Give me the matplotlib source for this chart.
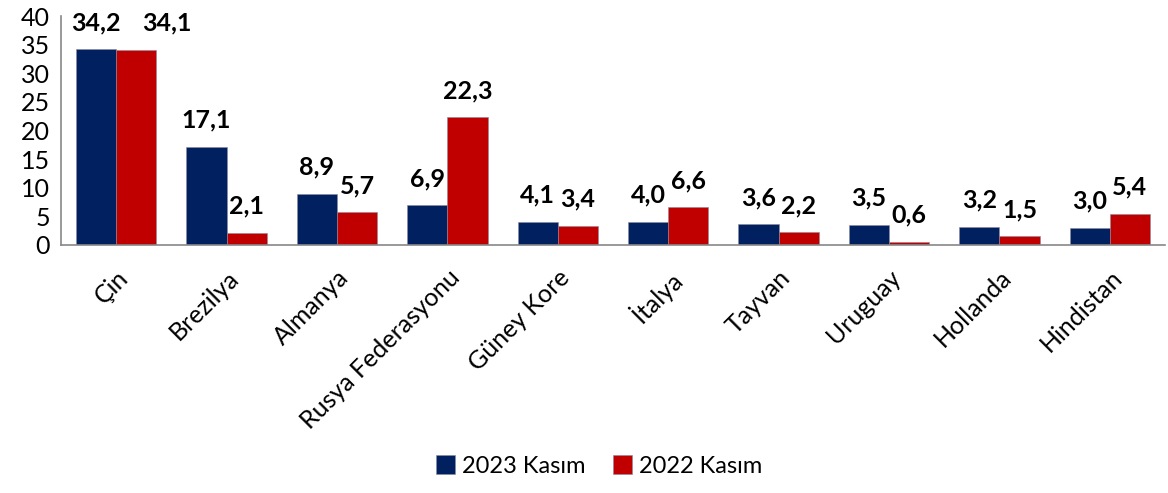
import numpy as np
import matplotlib.pyplot as plt

plt.rcParams['font.family'] = ['Lato', 'DejaVu Sans']

countries = ['Çin', 'Brezilya', 'Almanya', 'Rusya Federasyonu', 'Güney Kore',
             'İtalya', 'Tayvan', 'Uruguay', 'Hollanda', 'Hindistan']
val_2023 = [34.2, 17.1, 8.9, 6.9, 4.1, 4.0, 3.6, 3.5, 3.2, 3.0]
val_2022 = [34.1, 2.1, 5.7, 22.3, 3.4, 6.6, 2.2, 0.6, 1.5, 5.4]
series_names = ['2023 Kasım', '2022 Kasım']
colors = ['#002060', '#C00000']

fig = plt.figure(figsize=(11.68, 4.93), dpi=100)
ax = fig.add_axes([61 / 1168, 1 - 245 / 493, 1104 / 1168, 229 / 493])

x = np.arange(len(countries))
w = 0.365
for i, (vals, name, c) in enumerate(zip([val_2023, val_2022], series_names, colors)):
    pos = x + (i - 0.5) * w
    bars = ax.bar(pos, vals, w, color=c, label=name, edgecolor='#8a8a9a', linewidth=0.4)
    for j, (b, v) in enumerate(zip(bars, vals)):
        # first group: labels crowd each other, push the red one right like Excel does
        dx = 22 if (i == 1 and j == 0) else 0
        ax.annotate(f'{v:.1f}'.replace('.', ','), (b.get_x() + b.get_width() / 2, v),
                    xytext=(dx, 11), textcoords='offset points', ha='center', va='bottom',
                    fontsize=18, fontweight='bold')

ax.set_xlim(-0.5, len(countries) - 0.5)
ax.set_ylim(0, 40)
ax.set_yticks(range(0, 41, 5))
ax.set_xticks(x)
ax.set_xticklabels(countries, rotation=45, ha='right', rotation_mode='anchor')
ax.tick_params(axis='both', length=0, labelsize=18)
ax.tick_params(axis='x', pad=15)
ax.tick_params(axis='y', pad=8)
for s in ['top', 'right']:
    ax.spines[s].set_visible(False)
for s in ['left', 'bottom']:
    ax.spines[s].set_color('#888888')
    ax.spines[s].set_linewidth(1.2)

fig.legend(loc='lower center', bbox_to_anchor=(0.513, -0.01), ncol=2, frameon=False,
           fontsize=17, handlelength=0.8, handleheight=0.8, handletextpad=0.3,
           columnspacing=1.2)

fig.savefig('out.png', dpi=100)
